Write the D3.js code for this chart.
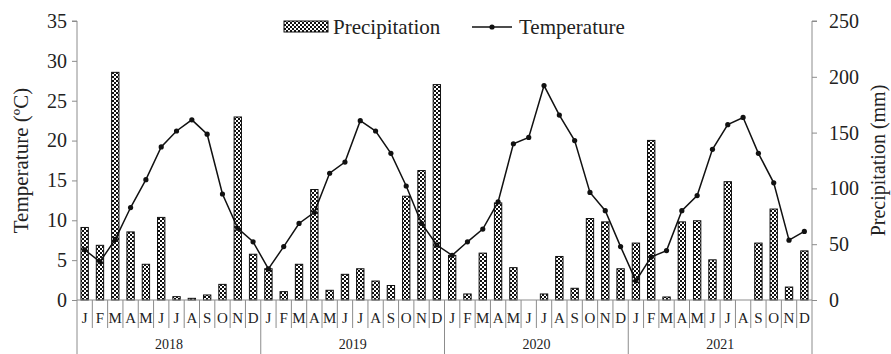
<!DOCTYPE html>
<html>
<head>
<meta charset="utf-8">
<script src="https://cdn.jsdelivr.net/npm/d3@7"></script>
<style>
  body { margin: 0; background: #fff; }
</style>
</head>
<body>
<svg id="chart" width="891" height="354" font-family="Liberation Serif"></svg>
<script>
const years = ['2018', '2019', '2020', '2021'];
const monthLetters = ['J', 'F', 'M', 'A', 'M', 'J', 'J', 'A', 'S', 'O', 'N', 'D'];

// monthly mean temperature (ºC)
const temperature = [
  6.3, 4.8, 7.6, 11.6, 15.1, 19.2, 21.2, 22.6, 20.8, 13.3, 9.0, 7.3,
  3.9, 6.7, 9.6, 11.0, 15.9, 17.3, 22.5, 21.2, 18.4, 14.3, 9.6, 6.9,
  5.6, 7.3, 8.9, 12.3, 19.6, 20.4, 26.9, 23.2, 20.0, 13.5, 11.2, 6.7,
  2.4, 5.4, 6.2, 11.2, 13.1, 18.9, 22.0, 22.9, 18.4, 14.7, 7.5, 8.6
];

// monthly precipitation (mm)
const precipitation = [
  65, 49, 204, 61, 32, 74, 3, 1.5, 4.5, 14, 164, 41,
  28, 7.5, 32, 99, 8.7, 23, 28, 17, 13, 93, 116, 193,
  40, 5.4, 42, 87, 29, 0, 5.4, 39, 10.5, 73, 70, 28,
  51, 143, 2.7, 70, 71, 36, 106, 0, 51, 81.5, 11.6, 44
];

const tempTicks = [0, 5, 10, 15, 20, 25, 30, 35];
const precTicks = [0, 50, 100, 150, 200, 250];

// one entry per month
const data = temperature.map((t, i) => ({
  key: i,
  month: monthLetters[i % 12],
  year: years[Math.floor(i / 12)],
  temp: t,
  prec: precipitation[i]
}));

const FONT = 'Liberation Serif';
const svg = d3.select('#chart');
const margin = { left: 77, right: 79, top: 21, bottom: 54 };
const W = 891, H = 354;
const axisColor = '#8c8c8c';

// checkerboard fill for the bars
const defs = svg.append('defs');
const pat = defs.append('pattern')
  .attr('id', 'checker')
  .attr('patternUnits', 'userSpaceOnUse')
  .attr('width', 4).attr('height', 4);
pat.append('rect').attr('width', 4).attr('height', 4).attr('fill', '#fff');
pat.append('rect').attr('width', 2).attr('height', 2).attr('fill', '#111');
pat.append('rect').attr('x', 2).attr('y', 2).attr('width', 2).attr('height', 2).attr('fill', '#111');

const x = d3.scaleBand()
  .domain(data.map(d => d.key))
  .range([margin.left, W - margin.right]);

const yT = d3.scaleLinear().domain([0, 35]).range([H - margin.bottom, margin.top]);
const yP = d3.scaleLinear().domain([0, 250]).range([H - margin.bottom, margin.top]);

// left axis
const leftAxis = svg.append('g')
  .attr('transform', `translate(${margin.left},0)`)
  .call(d3.axisLeft(yT).tickValues(tempTicks).tickSize(5).tickPadding(5));

// right axis
const rightAxis = svg.append('g')
  .attr('transform', `translate(${W - margin.right},0)`)
  .call(d3.axisRight(yP).tickValues(precTicks).tickSize(5).tickPadding(12));

[leftAxis, rightAxis].forEach(a => {
  a.attr('font-family', FONT);
  a.selectAll('path, line').attr('stroke', axisColor);
  a.select('.domain').attr('d', a === leftAxis
    ? `M-5,${yT(35)}H0V${yT(0)}`
    : `M5,${yP(250)}H0V${yP(0)}`);
  a.selectAll('text').style('font-size', '20px');
});

// bars
svg.append('g').selectAll('rect')
  .data(data)
  .join('rect')
  .attr('x', d => x(d.key) + x.bandwidth() * 0.26)
  .attr('width', x.bandwidth() * 0.48)
  .attr('y', d => yP(d.prec))
  .attr('height', d => yP(0) - yP(d.prec))
  .attr('fill', 'url(#checker)')
  .attr('stroke', '#111')
  .attr('stroke-width', 1)
  .style('display', d => d.prec > 0 ? null : 'none');

// category axis (month + year)
const xg = svg.append('g');
xg.append('line')
  .attr('x1', margin.left).attr('x2', W - margin.right)
  .attr('y1', yT(0)).attr('y2', yT(0))
  .attr('stroke', axisColor);

const bounds = d3.range(data.length + 1);
xg.selectAll('.sep')
  .data(bounds)
  .join('line')
  .attr('x1', i => margin.left + i * x.step())
  .attr('x2', i => margin.left + i * x.step())
  .attr('y1', yT(0))
  .attr('y2', i => i % 12 === 0 ? H : yT(0) + 28)
  .attr('stroke', axisColor);

xg.selectAll('.mon')
  .data(data)
  .join('text')
  .attr('x', d => x(d.key) + x.bandwidth() / 2)
  .attr('y', yT(0) + 23)
  .attr('text-anchor', 'middle')
  .style('font-size', '15px')
  .text(d => d.month);

xg.selectAll('.yr')
  .data(years)
  .join('text')
  .attr('x', (d, i) => margin.left + (i * 12 + 6) * x.step())
  .attr('y', H - 5)
  .attr('text-anchor', 'middle')
  .style('font-size', '14px')
  .text(d => d);

// temperature line
const line = d3.line()
  .x(d => x(d.key) + x.bandwidth() / 2)
  .y(d => yT(d.temp));

svg.append('path')
  .datum(data)
  .attr('d', line)
  .attr('fill', 'none')
  .attr('stroke', '#111')
  .attr('stroke-width', 1.5);

svg.append('g').selectAll('circle')
  .data(data)
  .join('circle')
  .attr('cx', d => x(d.key) + x.bandwidth() / 2)
  .attr('cy', d => yT(d.temp))
  .attr('r', 2.6)
  .attr('fill', '#111');

// axis titles
svg.append('text')
  .attr('transform', `translate(21,${(yT(0) + yT(35)) / 2}) rotate(-90)`)
  .attr('text-anchor', 'middle')
  .attr('dy', '0.35em')
  .style('font-size', '21px')
  .text('Temperature (ºC)');

svg.append('text')
  .attr('transform', `translate(878,${(yP(0) + yP(250)) / 2}) rotate(-90)`)
  .attr('text-anchor', 'middle')
  .attr('dy', '0.35em')
  .style('font-size', '20px')
  .text('Precipitation (mm)');

// legend
const lg = svg.append('g');
lg.append('rect')
  .attr('x', 284).attr('y', 21).attr('width', 44).attr('height', 11)
  .attr('fill', 'url(#checker)').attr('stroke', '#111');
lg.append('text').attr('x', 333).attr('y', 34).style('font-size', '21px').text('Precipitation');
lg.append('line')
  .attr('x1', 472).attr('x2', 512).attr('y1', 27).attr('y2', 27)
  .attr('stroke', '#111').attr('stroke-width', 1.5);
lg.append('circle').attr('cx', 492).attr('cy', 27).attr('r', 2.6).attr('fill', '#111');
lg.append('text').attr('x', 519).attr('y', 34).style('font-size', '21px').text('Temperature');

svg.selectAll('text')
  .style('font-family', FONT)
  .attr('fill', '#222');
</script>
</body>
</html>
